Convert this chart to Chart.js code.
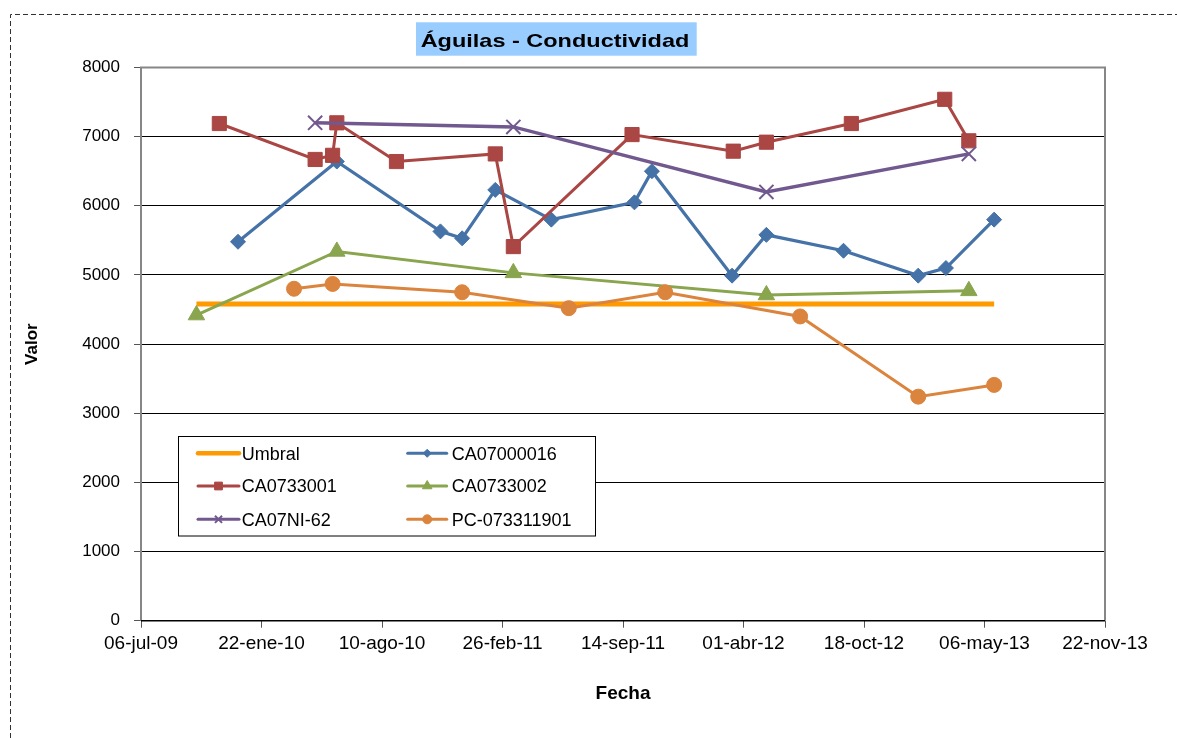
<!DOCTYPE html>
<html>
<head>
<meta charset="utf-8">
<script src="https://cdn.jsdelivr.net/npm/chart.js@4.4.1/dist/chart.umd.min.js"></script>
<style>html,body{margin:0;padding:0;background:#fff;overflow:hidden}canvas{display:block}</style>
</head>
<body>
<canvas id="c" width="1177" height="738"></canvas>
<script>
// ---------- data ----------
const chartTitle = 'Águilas - Conductividad';
const xAxisTitle = 'Fecha';
const yAxisTitle = 'Valor';
const monthNames = ['ene','feb','mar','abr','may','jun','jul','ago','sep','oct','nov','dic'];
const xTickStart = '2009-07-06';
const xTickEnd = '2013-11-22';
const xTickStepDays = 200;
const yTicks = [0,1000,2000,3000,4000,5000,6000,7000,8000];

const umbralDates = ['2009-10-06','2013-05-22'];
const umbralValues = [4580,4580];

const ca07000016Dates = ['2009-12-14','2010-05-27','2010-11-15','2010-12-21','2011-02-14','2011-05-18','2011-10-03','2011-11-01','2012-03-13','2012-05-09','2012-09-14','2013-01-16','2013-03-03','2013-05-22'];
const ca07000016Values = [5480,6640,5630,5530,6230,5800,6050,6500,4990,5580,5350,4990,5100,5800];

const ca0733001Dates = ['2009-11-13','2010-04-21','2010-05-20','2010-05-27','2010-09-03','2011-02-14','2011-03-16','2011-09-29','2012-03-15','2012-05-09','2012-09-27','2013-03-01','2013-04-10'];
const ca0733001Values = [7190,6670,6730,7200,6640,6750,5410,7030,6790,6920,7190,7540,6940];

const ca0733002Dates = ['2009-10-06','2010-05-27','2011-03-16','2012-05-09','2013-04-10'];
const ca0733002Values = [4420,5340,5030,4710,4770];

const ca07ni62Dates = ['2010-04-21','2011-03-16','2012-05-09','2013-04-10'];
const ca07ni62Values = [7200,7140,6200,6750];

const pc073311901Dates = ['2010-03-17','2010-05-20','2010-12-21','2011-06-16','2011-11-23','2012-07-04','2013-01-16','2013-05-22'];
const pc073311901Values = [4800,4870,4750,4520,4750,4400,3240,3410];

// ---------- helpers ----------
function toDay(s){const p=s.split('-').map(Number);return Date.UTC(p[0],p[1]-1,p[2])/86400000;}
function fmtDay(day){
  const dt=new Date(Math.round(day)*86400000);
  const dd=String(dt.getUTCDate()).padStart(2,'0');
  const yy=String(dt.getUTCFullYear()%100).padStart(2,'0');
  return dd+'-'+monthNames[dt.getUTCMonth()]+'-'+yy;
}
function pts(dates,vals){return dates.map((d,i)=>({x:toDay(d),y:vals[i]}));}

const FONT='"Liberation Sans", Arial, Helvetica, sans-serif';

const datasets=[
  {label:'Umbral',data:pts(umbralDates,umbralValues),borderColor:'#FF9900',backgroundColor:'#FF9900',borderWidth:5,pointRadius:0,pointStyle:false,order:10,_lw:4.5,_lr:0},
  {label:'CA07000016',data:pts(ca07000016Dates,ca07000016Values),borderColor:'#4572A7',backgroundColor:'#4572A7',borderWidth:3.2,pointStyle:'rectRot',pointRadius:7.5,pointBorderWidth:1,order:9,_lw:3,_lr:4},
  {label:'CA0733001',data:pts(ca0733001Dates,ca0733001Values),borderColor:'#AA4643',backgroundColor:'#AA4643',borderWidth:3,pointStyle:'rect',pointRadius:10,pointBorderWidth:1,order:8,_lw:3,_lr:5.5},
  {label:'CA0733002',data:pts(ca0733002Dates,ca0733002Values),borderColor:'#89A54E',backgroundColor:'#89A54E',borderWidth:3,pointStyle:'triangle',pointRadius:9.5,pointBorderWidth:1,order:7,_lw:3,_lr:5.5},
  {label:'CA07NI-62',data:pts(ca07ni62Dates,ca07ni62Values),borderColor:'#71588F',backgroundColor:'#71588F',borderWidth:3.4,pointStyle:'crossRot',pointRadius:10,pointBorderWidth:2,order:6,_lw:3,_lr:5},
  {label:'PC-073311901',data:pts(pc073311901Dates,pc073311901Values),borderColor:'#DB843D',backgroundColor:'#DB843D',borderWidth:3,pointStyle:'circle',pointRadius:7.5,pointBorderWidth:1,order:5,_lw:3,_lr:4.5}
];

const framePlugin={
  id:'frame',
  beforeDraw(chart){
    const c=chart.ctx;
    c.save();
    c.fillStyle='#fff';c.fillRect(0,0,chart.width,chart.height);
    c.strokeStyle='#333';c.lineWidth=1;c.setLineDash([5,3]);
    c.beginPath();c.moveTo(10.5,chart.height);c.lineTo(10.5,14.5);c.lineTo(chart.width,14.5);c.stroke();
    c.setLineDash([]);
    c.fillStyle='#99CCFF';c.fillRect(416,22.3,280.7,33.4);
    c.font='bold 19px '+FONT;
    const w=c.measureText(chartTitle).width;
    const sx=268.7/w;
    c.translate(555,46.5);c.scale(sx,1);
    c.fillStyle='#000';c.textAlign='center';c.textBaseline='alphabetic';
    c.fillText(chartTitle,0,0);
    c.restore();
  },
  beforeDatasetsDraw(chart){
    const a=chart.chartArea,c=chart.ctx;
    c.save();
    c.strokeStyle='#868686';c.lineWidth=2;
    c.beginPath();
    c.moveTo(a.left,a.bottom);c.lineTo(a.left,a.top);c.lineTo(a.right,a.top);c.lineTo(a.right,a.bottom);
    c.stroke();
    c.strokeStyle='#000';c.lineWidth=1.5;
    c.beginPath();c.moveTo(a.left,a.bottom);c.lineTo(a.right,a.bottom);c.stroke();
    c.restore();
  },
  afterDraw(chart){
    const c=chart.ctx;
    c.save();
    const bx=178.5,by=436.5,bw=417,bh=99.5;
    c.fillStyle='#fff';c.fillRect(bx,by,bw,bh);
    c.strokeStyle='#000';c.lineWidth=1;c.strokeRect(bx,by,bw,bh);
    const colLine=[[198,239],[407.7,446.7]];
    const colText=[241.7,451.7];
    const rowY=[453.3,486,519.3];
    c.font='18px '+FONT;c.textBaseline='alphabetic';c.textAlign='left';
    chart.data.datasets.forEach((ds,i)=>{
      const col=i%2,row=Math.floor(i/2);
      const y=rowY[row];
      c.strokeStyle=ds.borderColor;c.lineWidth=ds._lw;c.lineCap='round';
      c.beginPath();c.moveTo(colLine[col][0],y);c.lineTo(colLine[col][1],y);c.stroke();
      c.lineCap='butt';
      if(ds._lr>0 && Chart.helpers && Chart.helpers.drawPoint){
        c.fillStyle=ds.backgroundColor;c.strokeStyle=ds.borderColor;
        c.lineWidth=ds.pointBorderWidth;
        Chart.helpers.drawPoint(c,{pointStyle:ds.pointStyle,radius:ds._lr,rotation:0,borderWidth:ds.pointBorderWidth},(colLine[col][0]+colLine[col][1])/2,y);
      }
      c.fillStyle='#000';
      c.fillText(ds.label,colText[col],y+6.3);
    });
    c.restore();
  }
};

new Chart(document.getElementById('c'),{
  type:'line',
  data:{datasets:datasets},
  options:{
    responsive:false,animation:false,devicePixelRatio:1,
    layout:{padding:{left:0,right:72,top:67.5,bottom:0}},
    elements:{line:{tension:0,fill:false}},
    plugins:{legend:{display:false},tooltip:{enabled:false},title:{display:false}},
    events:[],
    scales:{
      x:{
        type:'linear',
        min:toDay(xTickStart),max:toDay(xTickEnd),
        afterBuildTicks(s){const t=[];for(let v=toDay(xTickStart);v<=toDay(xTickEnd)+0.01;v+=xTickStepDays)t.push({value:v});s.ticks=t;},
        afterFit(s){s.height=117.3;},
        grid:{drawOnChartArea:false,drawTicks:true,tickLength:7,tickColor:'#555',lineWidth:1},
        border:{display:false},
        ticks:{callback:v=>fmtDay(v),font:{family:FONT,size:19},color:'#000',padding:5,maxRotation:0,minRotation:0,autoSkip:false},
        title:{display:true,text:xAxisTitle,font:{family:FONT,size:19,weight:'bold'},color:'#000',padding:{top:0,bottom:32.6}}
      },
      y:{
        type:'linear',min:0,max:8000,
        afterBuildTicks(s){s.ticks=yTicks.map(v=>({value:v}));},
        afterFit(s){s.width=141;},
        grid:{color:'#000',lineWidth:1,drawTicks:true,tickLength:7,tickColor:'#555'},
        border:{display:false},
        ticks:{callback:v=>String(v),font:{family:FONT,size:17},color:'#000',padding:14},
        title:{display:true,text:yAxisTitle,font:{family:FONT,size:17,weight:'bold'},color:'#000',padding:{top:22.5,bottom:0}}
      }
    }
  },
  plugins:[framePlugin]
});
</script>
</body>
</html>
